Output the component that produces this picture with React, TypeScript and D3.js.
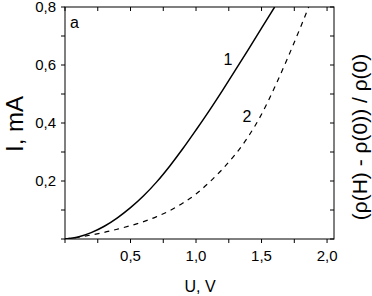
import * as d3 from "d3";

// U, V (x) and I, mA (y)
const u1 = [0, 0.1, 0.2, 0.3, 0.4, 0.5, 0.6, 0.7, 0.8, 0.9, 1.0, 1.1, 1.2, 1.3, 1.4, 1.5, 1.6];
const i1 = [0, 0.007, 0.022, 0.044, 0.073, 0.108, 0.149, 0.197, 0.252, 0.312, 0.376, 0.442, 0.511, 0.582, 0.654, 0.727, 0.8];

const u2 = [0, 0.1, 0.2, 0.3, 0.4, 0.5, 0.6, 0.7, 0.8, 0.9, 1.0, 1.1, 1.2, 1.3, 1.4, 1.5, 1.6, 1.7, 1.8, 1.86];
const i2 = [0, 0.006, 0.014, 0.023, 0.034, 0.046, 0.06, 0.077, 0.098, 0.124, 0.155, 0.195, 0.24, 0.292, 0.354, 0.43, 0.523, 0.625, 0.733, 0.8];

const xTicks = [0, 0.25, 0.5, 0.75, 1.0, 1.25, 1.5, 1.75, 2.0];
const xLabels = [0.5, 1.0, 1.5, 2.0];
const yTicks = [0, 0.1, 0.2, 0.3, 0.4, 0.5, 0.6, 0.7, 0.8];
const yLabels = [0.2, 0.4, 0.6, 0.8];

const W = 372;
const H = 296;
const left = 65, right = 334, top = 7, bottom = 239;
const font = "'Liberation Sans', Arial, sans-serif";

const fmt = (v: number) => d3.format(".1f")(v).replace(".", ",");

export default function App() {
  const x = d3.scaleLinear().domain([0, 2.053]).range([left, right]);
  const y = d3.scaleLinear().domain([0, 0.8]).range([bottom, top]);

  const line = d3
    .line<[number, number]>()
    .x((d) => x(d[0]))
    .y((d) => y(d[1]))
    .curve(d3.curveMonotoneX);

  const pts1 = u1.map((u, k) => [u, i1[k]] as [number, number]);
  const pts2 = u2.map((u, k) => [u, i2[k]] as [number, number]);

  return (
    <svg
      width={W}
      height={H}
      style={{ position: "absolute", left: 0, top: 0, background: "#fff" }}
      fontFamily={font}
    >
      <rect x={0} y={0} width={W} height={H} fill="#fff" />
      <defs>
        <clipPath id="plot">
          <rect x={left} y={top} width={right - left} height={bottom - top} />
        </clipPath>
      </defs>

      {/* frame */}
      <rect x={left} y={top} width={right - left} height={bottom - top} fill="none" stroke="#000" strokeWidth={1} />

      {/* bottom ticks (out) and top ticks (in) */}
      {xTicks.map((t) => (
        <g key={"x" + t}>
          <line x1={x(t)} x2={x(t)} y1={bottom} y2={bottom + 4} stroke="#000" />
          <line x1={x(t)} x2={x(t)} y1={top} y2={top + 4} stroke="#000" />
        </g>
      ))}
      {xLabels.map((t) => (
        <text key={"xl" + t} x={x(t)} y={261} fontSize={15} textAnchor="middle">
          {fmt(t)}
        </text>
      ))}

      {/* left ticks (out) and right ticks (in) */}
      {yTicks.map((t) => (
        <g key={"y" + t}>
          <line x1={left - 4} x2={left} y1={y(t)} y2={y(t)} stroke="#000" />
          <line x1={right - 4} x2={right} y1={y(t)} y2={y(t)} stroke="#000" />
        </g>
      ))}
      {yLabels.map((t) => (
        <text key={"yl" + t} x={56} y={y(t)} dy="0.35em" fontSize={15} textAnchor="end">
          {fmt(t)}
        </text>
      ))}

      {/* curves */}
      <g clipPath="url(#plot)">
        <path d={line(pts1) || ""} fill="none" stroke="#000" strokeWidth={1.5} />
        <path d={line(pts2) || ""} fill="none" stroke="#000" strokeWidth={1.2} strokeDasharray="5,5" />
      </g>

      {/* annotations */}
      <text x={70} y={28} fontSize={16}>a</text>
      <text x={228} y={65} fontSize={16} textAnchor="middle">1</text>
      <text x={247} y={122} fontSize={16} textAnchor="middle">2</text>

      {/* axis titles */}
      <text x={200} y={292} fontSize={16} textAnchor="middle">U, V</text>
      <text transform="translate(23,124) rotate(-90)" fontSize={24} textAnchor="middle">I, mA</text>
      <text transform="translate(367,137) rotate(-90)" fontSize={21} textAnchor="middle">
        (ρ(H) - ρ(0)) / ρ(0)
      </text>
    </svg>
  );
}
